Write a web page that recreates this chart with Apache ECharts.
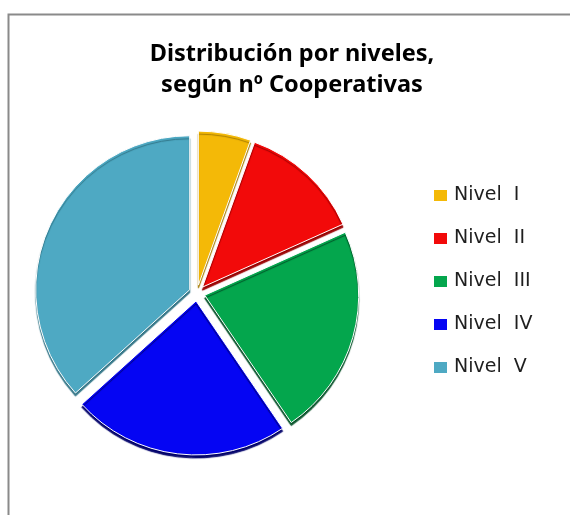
<!DOCTYPE html>
<html>
<head>
<meta charset="utf-8">
<script src="https://cdn.jsdelivr.net/npm/echarts@6/dist/echarts.min.js"></script>
<style>
html,body{margin:0;padding:0;background:#fff;}
#chart_con{width:570px;height:515px;}
</style>
</head>
<body>
<div id="chart_con"></div>
<script>
// datos (porcentaje aprox. de cooperativas)
const niveles = ['Nivel I', 'Nivel II', 'Nivel III', 'Nivel IV', 'Nivel V'];
const valores = [5.5, 12.8, 22.2, 22.8, 36.7];
const colores = ['#F4B907', '#F20A0A', '#04A64D', '#0505F3', '#4EA9C3'];
const sombras = ['#a47a00', '#9a0000', '#004f25', '#00006a', '#2f7385'];

let pieData = [];
for (let i = 0; i < niveles.length; i++) {
    pieData.push({
        name: niveles[i],
        value: valores[i],
        selected: true,
        itemStyle: {
            color: colores[i],
            shadowColor: sombras[i],
            shadowBlur: 1,
            shadowOffsetX: 0,
            shadowOffsetY: 3
        }
    });
}

const option = {
    animation: false,
    title: {
        text: 'Distribución por niveles,\nsegún nº Cooperativas',
        left: 287,
        top: 34,
        textAlign: 'center',
        textStyle: {
            fontFamily: 'Noto Sans',
            fontWeight: 'bold',
            fontSize: 23.5,
            lineHeight: 31,
            color: '#000'
        }
    },
    legend: {
        orient: 'vertical',
        left: 427,
        top: 181,
        itemWidth: 15,
        itemHeight: 13,
        itemGap: 24,
        icon: 'rect',
        selectedMode: false,
        textStyle: {
            fontFamily: 'DejaVu Sans',
            fontSize: 19,
            lineHeight: 17,
            color: '#1e1e1e',
            padding: [0, 0, 0, 1]
        },
        formatter: function (name) {
            return name.replace(' ', '  ');
        },
        data: niveles
    },
    graphic: [{
        type: 'rect',
        shape: { x: 8.5, y: 14.5, width: 700, height: 700 },
        style: { fill: 'none', stroke: '#8a8a8a', lineWidth: 2 },
        silent: true
    }],
    series: [{
        type: 'pie',
        center: [197, 293],
        radius: 154,
        startAngle: 90,
        clockwise: true,
        selectedMode: 'multiple',
        selectedOffset: 8,
        label: { show: false },
        labelLine: { show: false },
        emphasis: { disabled: true },
        itemStyle: { borderColor: '#fff', borderWidth: 1 },
        data: pieData
    }]
};

const chart = echarts.init(document.getElementById('chart_con'));
chart.setOption(option);
window.addEventListener('resize', function () {
    chart.resize();
});
</script>
</body>
</html>
